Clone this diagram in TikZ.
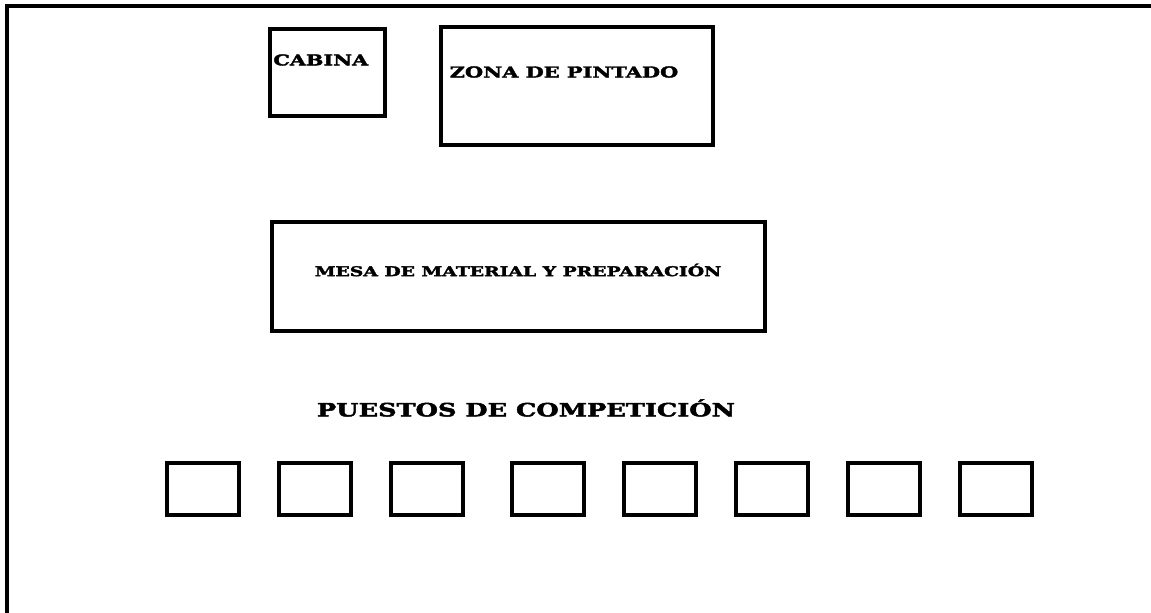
\documentclass[tikz,border=0pt]{standalone}
\usepackage{fontspec}
\newfontfamily\rotfont{DejaVu Serif}[FakeStretch=1.4, BoldFeatures={FakeBold=2.6}]
\usetikzlibrary{positioning}

\tikzset{
  zona/.style={draw, rectangle, line width=2.3pt, inner sep=0pt},
  puesto/.style={zona, minimum width=36pt, minimum height=26pt},
  rotulo/.style={inner sep=0pt, font=\rotfont\bfseries\fontsize{6.7}{8}\selectfont},
}

\begin{document}
\begin{tikzpicture}[x=0.5pt, y=-0.5pt, node distance=56pt]
\useasboundingbox (0,0) rectangle (1151,613);

% marco
\draw[line width=1.8pt] (7,613) -- (7,6) -- (1151,6);

\node[zona, minimum width=57.5pt, minimum height=43.5pt] (cabina) at (327.5,72.5) {};
\node[zona, minimum width=136pt, minimum height=59pt] (pintado) at (577,86) {};
\node[zona, minimum width=246.5pt, minimum height=54.5pt] (mesa) at (518.5,276.5) {};

\node[rotulo, anchor=west, font=\rotfont\bfseries\fontsize{7.4}{8}\selectfont] (tcabina) at (273,60) {CABINA};
\node[rotulo, font=\rotfont\bfseries\fontsize{7.45}{8}\selectfont] (tpintado) at (564,72) {ZONA DE PINTADO};
\node[rotulo] (tmesa) at (518,270) {MESA DE MATERIAL Y PREPARACIÓN};
\node[rotulo, font=\rotfont\bfseries\fontsize{9.15}{10}\selectfont] (tpuestos) at (526,408) {PUESTOS DE COMPETICIÓN};

\node[puesto] (p1) at (203,489) {};
\node[puesto] (p2) [right of=p1] {};
\node[puesto] (p3) [right of=p2] {};
\node[puesto] (p4) [right of=p3, xshift=4.5pt] {};
\node[puesto] (p5) [right of=p4] {};
\node[puesto] (p6) [right of=p5] {};
\node[puesto] (p7) [right of=p6] {};
\node[puesto] (p8) [right of=p7] {};

\end{tikzpicture}
\end{document}
